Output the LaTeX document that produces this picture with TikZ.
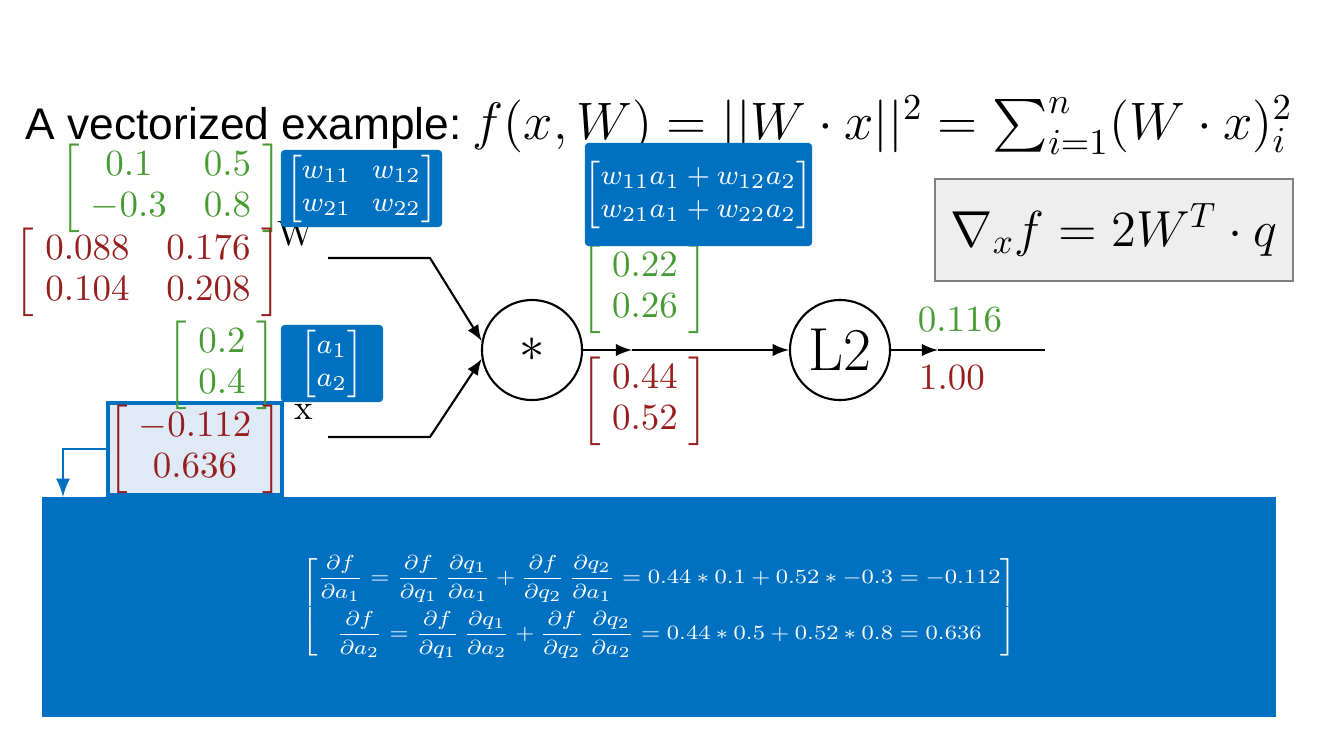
\documentclass[tikz,border=0pt]{standalone}
\usepackage{amsmath,amssymb}
\usepackage{fontspec}
\usepackage{xcolor}
\usepackage{tikz}
\usetikzlibrary{positioning}
\newfontfamily\slidefont{Liberation Sans}
\definecolor{valgreen}{RGB}{70,155,50}
\definecolor{gradred}{RGB}{150,30,30}
\definecolor{slideblue}{RGB}{0,112,192}
\definecolor{hlblue}{RGB}{224,234,246}
\definecolor{boxgray}{RGB}{238,238,238}
\newcommand{\brmat}[1]{\left[\begin{array}{@{\hspace{3pt}}c@{\hspace{10pt}}c@{\hspace{3pt}}}#1\end{array}\right]}
\newcommand{\brvec}[1]{\left[\begin{array}{@{\hspace{3pt}}c@{\hspace{3pt}}}#1\end{array}\right]}

\begin{document}
\begin{tikzpicture}[
    x=0.01cm, y=0.01cm,
    gate/.style={draw, circle, semithick, minimum size=1cm, inner sep=0pt},
    bluebox/.style={fill=slideblue, rounded corners=1pt, text=white, inner sep=0pt, font=\footnotesize,
      execute at begin node=\setlength{\arraycolsep}{3pt}},
    num/.style={inner sep=0pt, scale=1.05, transform shape,
      execute at begin node=\renewcommand{\arraystretch}{0.92}},
    val/.style={num, text=valgreen},
    grad/.style={num, text=gradred},
    wire/.style={semithick, -latex}
  ]
    \useasboundingbox (0,0) rectangle (1318,-738);

    % Titre et fonction
    \node[anchor=base west, inner sep=0pt, font=\slidefont\fontsize{12.6}{15}\selectfont] (title) at (25,-139) {A vectorized example:};
    \node[anchor=base west, inner sep=0pt, font=\Large, scale=1.04, transform shape] (loss) at (472,-139) {$f(x,W) = ||W\cdot x||^2 = \sum_{i=1}^n (W\cdot x)_i^2$};

    % Gradient encadré
    \node[draw=gray, fill=boxgray, minimum width=3.58cm, minimum height=1.02cm, font=\Large] (gradx) at (1114,-230) {$\nabla_x f = 2W^T\cdot q$};

    % Portes
    \node[gate, font=\Large] (mul) at (532,-350) {$\ast$};
    \node[gate, font=\LARGE] (l2) at (840,-350) {L2};

    % Entrées
    \node (wlabel) at (296,-234) {W};
    \node (xlabel) at (304,-412) {x};
    \coordinate (win) at (328,-258);
    \coordinate (wbend) at (430,-258);
    \coordinate (xin) at (328,-437);
    \coordinate (xbend) at (430,-437);
    \coordinate (qmid) at (632,-350);
    \coordinate (outmid) at (938,-350);
    \coordinate (out) at (1045,-350);

    \draw[wire] (win) -- (wbend) -- (mul.170);
    \draw[wire] (xin) -- (xbend) -- (mul.190);
    \draw[wire] (mul) -- (qmid);
    \draw[wire] (qmid) -- (l2);
    \draw[wire] (l2) -- (outmid);
    \draw[semithick] (outmid) -- (out);

    % Valeurs (vert) et gradients (rouge)
    \node[val] (wval) at (171,-188) {$\brmat{0.1 & 0.5\\ -0.3 & 0.8}$};
    \node[grad] (wgrad) at (148,-272) {$\brmat{0.088 & 0.176\\ 0.104 & 0.208}$};
    \node[draw=slideblue, line width=0.9pt, fill=hlblue, minimum width=1.74cm, minimum height=0.92cm] (xhl) at (195,-449) {};
    \node[val] (xval) at (222,-365) {$\brvec{0.2\\ 0.4}$};
    \node[grad] (xgrad) at (xhl) {$\brvec{-0.112\\ 0.636}$};
    \node[val] (qval) at (645,-289) {$\brvec{0.22\\ 0.26}$};
    \node[grad] (qgrad) at (645,-401) {$\brvec{0.44\\ 0.52}$};
    \node[val] (lossval) at (960,-320) {$0.116$};
    \node[grad] (lossgrad) at (952,-378) {$1.00$};

    % Boîtes symboliques
    \node[bluebox, minimum width=1.61cm, minimum height=0.77cm] (wsym) at (361.5,-188.5) {$\begin{bmatrix} w_{11} & w_{12}\\ w_{21} & w_{22}\end{bmatrix}$};
    \node[bluebox, minimum width=2.27cm, minimum height=1.03cm] (qsym) at (698.5,-194.5) {$\begin{bmatrix} w_{11}a_1 + w_{12}a_2\\ w_{21}a_1 + w_{22}a_2\end{bmatrix}$};
    \node[bluebox, minimum width=1.02cm, minimum height=0.77cm] (asym) at (332,-363.5) {$\begin{bmatrix} a_1\\ a_2\end{bmatrix}$};

    % Règle de la chaîne
    \node[bluebox, rounded corners=0pt, minimum width=12.34cm, minimum height=2.2cm] (chain) at (659,-607) {\scalebox{0.82}[0.72]{$\begin{bmatrix}
      \dfrac{\partial f}{\partial a_1} = \dfrac{\partial f}{\partial q_1}\,\dfrac{\partial q_1}{\partial a_1} + \dfrac{\partial f}{\partial q_2}\,\dfrac{\partial q_2}{\partial a_1} = 0.44 \ast 0.1 + 0.52 \ast -0.3 = -0.112\\[8pt]
      \dfrac{\partial f}{\partial a_2} = \dfrac{\partial f}{\partial q_1}\,\dfrac{\partial q_1}{\partial a_2} + \dfrac{\partial f}{\partial q_2}\,\dfrac{\partial q_2}{\partial a_2} = 0.44 \ast 0.5 + 0.52 \ast 0.8 = 0.636
    \end{bmatrix}$}};
    \coordinate (drop) at (63,-497);
    \draw[slideblue, thick, -latex] (xhl.west) -| (drop);

  \end{tikzpicture}
\end{document}
